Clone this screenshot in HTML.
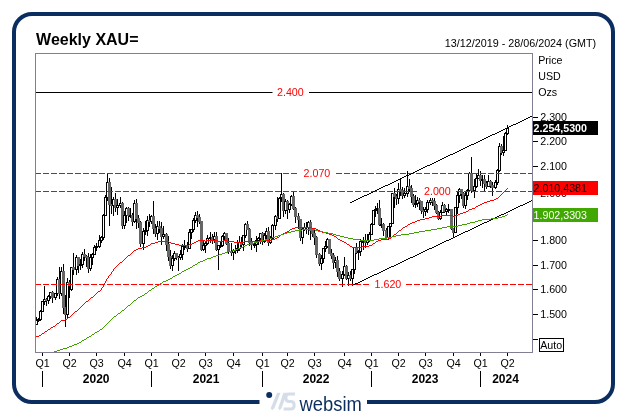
<!DOCTYPE html>
<html><head><meta charset="utf-8"><title>Weekly XAU=</title>
<style>html,body{margin:0;padding:0;background:#fff}body{width:627px;height:416px;position:relative;overflow:hidden}</style></head>
<body>
<svg width="627" height="416" viewBox="0 0 627 416" style="position:absolute;left:0;top:0">
<rect x="14" y="14" width="599" height="388" rx="18" ry="18" fill="none" stroke="#0b2d5f" stroke-width="4"/>
<rect x="259.5" y="396" width="107.5" height="12" fill="#fff"/>
<g shape-rendering="crispEdges">
<rect x="35.5" y="53.5" width="497" height="299" fill="#fff" stroke="#808092" stroke-width="1"/>
<line x1="533" x2="538" y1="339.5" y2="339.5" stroke="#000"/>
<line x1="533" x2="538" y1="314.5" y2="314.5" stroke="#000"/>
<line x1="533" x2="538" y1="289.5" y2="289.5" stroke="#000"/>
<line x1="533" x2="538" y1="265.5" y2="265.5" stroke="#000"/>
<line x1="533" x2="538" y1="240.5" y2="240.5" stroke="#000"/>
<line x1="533" x2="538" y1="215.5" y2="215.5" stroke="#000"/>
<line x1="533" x2="538" y1="191.5" y2="191.5" stroke="#000"/>
<line x1="533" x2="538" y1="166.5" y2="166.5" stroke="#000"/>
<line x1="533" x2="538" y1="141.5" y2="141.5" stroke="#000"/>
<line x1="533" x2="538" y1="117.5" y2="117.5" stroke="#000"/>
<line x1="42.5" x2="42.5" y1="353" y2="356" stroke="#000"/>
<line x1="69.5" x2="69.5" y1="353" y2="356" stroke="#000"/>
<line x1="96.5" x2="96.5" y1="353" y2="356" stroke="#000"/>
<line x1="124.5" x2="124.5" y1="353" y2="356" stroke="#000"/>
<line x1="151.5" x2="151.5" y1="353" y2="356" stroke="#000"/>
<line x1="178.5" x2="178.5" y1="353" y2="356" stroke="#000"/>
<line x1="205.5" x2="205.5" y1="353" y2="356" stroke="#000"/>
<line x1="233.5" x2="233.5" y1="353" y2="356" stroke="#000"/>
<line x1="262.5" x2="262.5" y1="353" y2="356" stroke="#000"/>
<line x1="287.5" x2="287.5" y1="353" y2="356" stroke="#000"/>
<line x1="314.5" x2="314.5" y1="353" y2="356" stroke="#000"/>
<line x1="344.5" x2="344.5" y1="353" y2="356" stroke="#000"/>
<line x1="371.5" x2="371.5" y1="353" y2="356" stroke="#000"/>
<line x1="398.5" x2="398.5" y1="353" y2="356" stroke="#000"/>
<line x1="425.5" x2="425.5" y1="353" y2="356" stroke="#000"/>
<line x1="453.5" x2="453.5" y1="353" y2="356" stroke="#000"/>
<line x1="480.5" x2="480.5" y1="353" y2="356" stroke="#000"/>
<line x1="507.5" x2="507.5" y1="353" y2="356" stroke="#000"/>
<line x1="42.5" x2="42.5" y1="371" y2="387" stroke="#000"/>
<line x1="151.5" x2="151.5" y1="371" y2="387" stroke="#000"/>
<line x1="262.5" x2="262.5" y1="371" y2="387" stroke="#000"/>
<line x1="371.5" x2="371.5" y1="371" y2="387" stroke="#000"/>
<line x1="480.5" x2="480.5" y1="371" y2="387" stroke="#000"/>
</g>
<defs><clipPath id="cp"><rect x="36" y="54" width="496" height="298"/></clipPath></defs>
<g clip-path="url(#cp)">
<g shape-rendering="crispEdges">
<rect x="36" y="317" width="1" height="8" fill="#000"/>
<rect x="35.5" y="320.5" width="2" height="4" fill="#fff" stroke="#000"/>
<rect x="38" y="318" width="1" height="4" fill="#000"/>
<rect x="37.5" y="319.5" width="2" height="1" fill="#fff" stroke="#000"/>
<rect x="40" y="310" width="1" height="11" fill="#000"/>
<rect x="39.5" y="311.5" width="2" height="8" fill="#fff" stroke="#000"/>
<rect x="42" y="301" width="1" height="11" fill="#000"/>
<rect x="41.5" y="301.5" width="2" height="10" fill="#fff" stroke="#000"/>
<rect x="44" y="286" width="1" height="19" fill="#000"/>
<rect x="43.5" y="299.5" width="2" height="2" fill="#fff" stroke="#000"/>
<rect x="46" y="298" width="1" height="8" fill="#000"/>
<rect x="45" y="299" width="3" height="2" fill="#666"/>
<rect x="48" y="295" width="1" height="9" fill="#000"/>
<rect x="47.5" y="296.5" width="2" height="4" fill="#fff" stroke="#000"/>
<rect x="50" y="292" width="1" height="7" fill="#000"/>
<rect x="49.5" y="292.5" width="2" height="4" fill="#fff" stroke="#000"/>
<rect x="52" y="291" width="1" height="12" fill="#000"/>
<rect x="51" y="292" width="3" height="6" fill="#666"/>
<rect x="55" y="293" width="1" height="7" fill="#000"/>
<rect x="54.5" y="293.5" width="2" height="4" fill="#fff" stroke="#000"/>
<rect x="57" y="277" width="1" height="19" fill="#000"/>
<rect x="56.5" y="279.5" width="2" height="14" fill="#fff" stroke="#000"/>
<rect x="59" y="267" width="1" height="32" fill="#000"/>
<rect x="58" y="279" width="3" height="15" fill="#666"/>
<rect x="61" y="267" width="1" height="29" fill="#000"/>
<rect x="60.5" y="271.5" width="2" height="22" fill="#fff" stroke="#000"/>
<rect x="63" y="264" width="1" height="50" fill="#000"/>
<rect x="62" y="271" width="3" height="37" fill="#666"/>
<rect x="65" y="295" width="1" height="32" fill="#000"/>
<rect x="64" y="307" width="3" height="8" fill="#666"/>
<rect x="67" y="278" width="1" height="41" fill="#000"/>
<rect x="66.5" y="282.5" width="2" height="32" fill="#fff" stroke="#000"/>
<rect x="69" y="280" width="1" height="18" fill="#000"/>
<rect x="68" y="282" width="3" height="4" fill="#666"/>
<rect x="71" y="267" width="1" height="24" fill="#000"/>
<rect x="70.5" y="267.5" width="2" height="22" fill="#fff" stroke="#000"/>
<rect x="73" y="253" width="1" height="22" fill="#000"/>
<rect x="72" y="267" width="3" height="3" fill="#666"/>
<rect x="76" y="255" width="1" height="20" fill="#000"/>
<rect x="75.5" y="257.5" width="2" height="12" fill="#fff" stroke="#000"/>
<rect x="78" y="257" width="1" height="16" fill="#000"/>
<rect x="77" y="257" width="3" height="9" fill="#666"/>
<rect x="80" y="259" width="1" height="11" fill="#000"/>
<rect x="79.5" y="264.5" width="2" height="1" fill="#fff" stroke="#000"/>
<rect x="82" y="252" width="1" height="16" fill="#000"/>
<rect x="81.5" y="254.5" width="2" height="10" fill="#fff" stroke="#000"/>
<rect x="84" y="249" width="1" height="12" fill="#000"/>
<rect x="83" y="254" width="3" height="3" fill="#666"/>
<rect x="86" y="255" width="1" height="12" fill="#000"/>
<rect x="85" y="256" width="3" height="2" fill="#666"/>
<rect x="88" y="253" width="1" height="20" fill="#000"/>
<rect x="87" y="257" width="3" height="12" fill="#666"/>
<rect x="90" y="254" width="1" height="17" fill="#000"/>
<rect x="89.5" y="257.5" width="2" height="11" fill="#fff" stroke="#000"/>
<rect x="92" y="253" width="1" height="12" fill="#000"/>
<rect x="91.5" y="254.5" width="2" height="3" fill="#fff" stroke="#000"/>
<rect x="94" y="245" width="1" height="10" fill="#000"/>
<rect x="93.5" y="247.5" width="2" height="7" fill="#fff" stroke="#000"/>
<rect x="96" y="243" width="1" height="8" fill="#000"/>
<rect x="95.5" y="246.5" width="2" height="1" fill="#fff" stroke="#000"/>
<rect x="99" y="235" width="1" height="13" fill="#000"/>
<rect x="98.5" y="240.5" width="2" height="6" fill="#fff" stroke="#000"/>
<rect x="101" y="236" width="1" height="7" fill="#000"/>
<rect x="100.5" y="237.5" width="2" height="3" fill="#fff" stroke="#000"/>
<rect x="103" y="214" width="1" height="26" fill="#000"/>
<rect x="102.5" y="215.5" width="2" height="22" fill="#fff" stroke="#000"/>
<rect x="105" y="195" width="1" height="21" fill="#000"/>
<rect x="104.5" y="197.5" width="2" height="18" fill="#fff" stroke="#000"/>
<rect x="107" y="173" width="1" height="28" fill="#000"/>
<rect x="106.5" y="182.5" width="2" height="15" fill="#fff" stroke="#000"/>
<rect x="109" y="178" width="1" height="48" fill="#000"/>
<rect x="108" y="182" width="3" height="23" fill="#666"/>
<rect x="111" y="187" width="1" height="27" fill="#000"/>
<rect x="110" y="204" width="3" height="2" fill="#666"/>
<rect x="113" y="197" width="1" height="19" fill="#000"/>
<rect x="112.5" y="199.5" width="2" height="6" fill="#fff" stroke="#000"/>
<rect x="115" y="193" width="1" height="19" fill="#000"/>
<rect x="114" y="199" width="3" height="9" fill="#666"/>
<rect x="117" y="199" width="1" height="16" fill="#000"/>
<rect x="116.5" y="205.5" width="2" height="2" fill="#fff" stroke="#000"/>
<rect x="120" y="197" width="1" height="11" fill="#000"/>
<rect x="119.5" y="203.5" width="2" height="2" fill="#fff" stroke="#000"/>
<rect x="122" y="202" width="1" height="27" fill="#000"/>
<rect x="121" y="203" width="3" height="23" fill="#666"/>
<rect x="124" y="211" width="1" height="18" fill="#000"/>
<rect x="123.5" y="215.5" width="2" height="10" fill="#fff" stroke="#000"/>
<rect x="126" y="207" width="1" height="16" fill="#000"/>
<rect x="125.5" y="208.5" width="2" height="7" fill="#fff" stroke="#000"/>
<rect x="128" y="207" width="1" height="14" fill="#000"/>
<rect x="127" y="208" width="3" height="8" fill="#666"/>
<rect x="130" y="208" width="1" height="10" fill="#000"/>
<rect x="129.5" y="215.5" width="2" height="1" fill="#fff" stroke="#000"/>
<rect x="132" y="213" width="1" height="13" fill="#000"/>
<rect x="131" y="215" width="3" height="7" fill="#666"/>
<rect x="134" y="200" width="1" height="23" fill="#000"/>
<rect x="133.5" y="203.5" width="2" height="18" fill="#fff" stroke="#000"/>
<rect x="136" y="199" width="1" height="30" fill="#000"/>
<rect x="135" y="203" width="3" height="16" fill="#666"/>
<rect x="138" y="215" width="1" height="13" fill="#000"/>
<rect x="137" y="218" width="3" height="5" fill="#666"/>
<rect x="140" y="221" width="1" height="26" fill="#000"/>
<rect x="139" y="222" width="3" height="22" fill="#666"/>
<rect x="143" y="228" width="1" height="22" fill="#000"/>
<rect x="142.5" y="231.5" width="2" height="12" fill="#fff" stroke="#000"/>
<rect x="145" y="221" width="1" height="14" fill="#000"/>
<rect x="144.5" y="230.5" width="2" height="1" fill="#fff" stroke="#000"/>
<rect x="147" y="216" width="1" height="20" fill="#000"/>
<rect x="146.5" y="220.5" width="2" height="10" fill="#fff" stroke="#000"/>
<rect x="149" y="214" width="1" height="13" fill="#000"/>
<rect x="148" y="220" width="3" height="2" fill="#666"/>
<rect x="151" y="215" width="1" height="9" fill="#000"/>
<rect x="150.5" y="216.5" width="2" height="5" fill="#fff" stroke="#000"/>
<rect x="153" y="201" width="1" height="33" fill="#000"/>
<rect x="152" y="216" width="3" height="13" fill="#666"/>
<rect x="155" y="224" width="1" height="13" fill="#000"/>
<rect x="154" y="228" width="3" height="6" fill="#666"/>
<rect x="157" y="221" width="1" height="19" fill="#000"/>
<rect x="156.5" y="226.5" width="2" height="7" fill="#fff" stroke="#000"/>
<rect x="159" y="221" width="1" height="12" fill="#000"/>
<rect x="158" y="226" width="3" height="3" fill="#666"/>
<rect x="161" y="222" width="1" height="23" fill="#000"/>
<rect x="160" y="228" width="3" height="9" fill="#666"/>
<rect x="163" y="226" width="1" height="13" fill="#000"/>
<rect x="162.5" y="234.5" width="2" height="2" fill="#fff" stroke="#000"/>
<rect x="166" y="233" width="1" height="18" fill="#000"/>
<rect x="165" y="234" width="3" height="11" fill="#666"/>
<rect x="168" y="236" width="1" height="25" fill="#000"/>
<rect x="167" y="244" width="3" height="13" fill="#666"/>
<rect x="170" y="250" width="1" height="19" fill="#000"/>
<rect x="169" y="256" width="3" height="10" fill="#666"/>
<rect x="172" y="255" width="1" height="16" fill="#000"/>
<rect x="171.5" y="258.5" width="2" height="7" fill="#fff" stroke="#000"/>
<rect x="174" y="251" width="1" height="10" fill="#000"/>
<rect x="173.5" y="253.5" width="2" height="5" fill="#fff" stroke="#000"/>
<rect x="176" y="253" width="1" height="7" fill="#000"/>
<rect x="175" y="253" width="3" height="5" fill="#666"/>
<rect x="178" y="256" width="1" height="15" fill="#000"/>
<rect x="177" y="257" width="3" height="1" fill="#666"/>
<rect x="180" y="250" width="1" height="10" fill="#000"/>
<rect x="179.5" y="254.5" width="2" height="3" fill="#fff" stroke="#000"/>
<rect x="182" y="244" width="1" height="16" fill="#000"/>
<rect x="181.5" y="246.5" width="2" height="8" fill="#fff" stroke="#000"/>
<rect x="184" y="240" width="1" height="10" fill="#000"/>
<rect x="183.5" y="246.5" width="2" height="1" fill="#fff" stroke="#000"/>
<rect x="187" y="242" width="1" height="10" fill="#000"/>
<rect x="186" y="246" width="3" height="3" fill="#666"/>
<rect x="189" y="229" width="1" height="20" fill="#000"/>
<rect x="188.5" y="232.5" width="2" height="16" fill="#fff" stroke="#000"/>
<rect x="191" y="229" width="1" height="10" fill="#000"/>
<rect x="190.5" y="229.5" width="2" height="3" fill="#fff" stroke="#000"/>
<rect x="193" y="218" width="1" height="14" fill="#000"/>
<rect x="192.5" y="220.5" width="2" height="9" fill="#fff" stroke="#000"/>
<rect x="195" y="212" width="1" height="11" fill="#000"/>
<rect x="194.5" y="215.5" width="2" height="5" fill="#fff" stroke="#000"/>
<rect x="197" y="211" width="1" height="16" fill="#000"/>
<rect x="196" y="215" width="3" height="3" fill="#666"/>
<rect x="199" y="214" width="1" height="10" fill="#000"/>
<rect x="198" y="217" width="3" height="5" fill="#666"/>
<rect x="201" y="221" width="1" height="30" fill="#000"/>
<rect x="200" y="221" width="3" height="29" fill="#666"/>
<rect x="203" y="241" width="1" height="10" fill="#000"/>
<rect x="202.5" y="245.5" width="2" height="4" fill="#fff" stroke="#000"/>
<rect x="205" y="241" width="1" height="12" fill="#000"/>
<rect x="204.5" y="243.5" width="2" height="2" fill="#fff" stroke="#000"/>
<rect x="207" y="235" width="1" height="10" fill="#000"/>
<rect x="206.5" y="238.5" width="2" height="5" fill="#fff" stroke="#000"/>
<rect x="210" y="232" width="1" height="11" fill="#000"/>
<rect x="209.5" y="237.5" width="2" height="1" fill="#fff" stroke="#000"/>
<rect x="212" y="234" width="1" height="10" fill="#000"/>
<rect x="211" y="237" width="3" height="3" fill="#666"/>
<rect x="214" y="232" width="1" height="11" fill="#000"/>
<rect x="213.5" y="236.5" width="2" height="3" fill="#fff" stroke="#000"/>
<rect x="216" y="232" width="1" height="19" fill="#000"/>
<rect x="215" y="236" width="3" height="14" fill="#666"/>
<rect x="218" y="245" width="1" height="25" fill="#000"/>
<rect x="217.5" y="245.5" width="2" height="4" fill="#fff" stroke="#000"/>
<rect x="220" y="241" width="1" height="7" fill="#000"/>
<rect x="219.5" y="245.5" width="2" height="1" fill="#fff" stroke="#000"/>
<rect x="222" y="235" width="1" height="12" fill="#000"/>
<rect x="221.5" y="236.5" width="2" height="9" fill="#fff" stroke="#000"/>
<rect x="224" y="232" width="1" height="9" fill="#000"/>
<rect x="223.5" y="233.5" width="2" height="3" fill="#fff" stroke="#000"/>
<rect x="226" y="233" width="1" height="12" fill="#000"/>
<rect x="225" y="233" width="3" height="11" fill="#666"/>
<rect x="228" y="238" width="1" height="16" fill="#000"/>
<rect x="227" y="243" width="3" height="9" fill="#666"/>
<rect x="231" y="243" width="1" height="13" fill="#000"/>
<rect x="230" y="251" width="3" height="2" fill="#666"/>
<rect x="233" y="249" width="1" height="11" fill="#000"/>
<rect x="232.5" y="250.5" width="2" height="2" fill="#fff" stroke="#000"/>
<rect x="235" y="245" width="1" height="9" fill="#000"/>
<rect x="234" y="250" width="3" height="1" fill="#666"/>
<rect x="237" y="240" width="1" height="13" fill="#000"/>
<rect x="236.5" y="248.5" width="2" height="2" fill="#fff" stroke="#000"/>
<rect x="239" y="236" width="1" height="15" fill="#000"/>
<rect x="238.5" y="242.5" width="2" height="6" fill="#fff" stroke="#000"/>
<rect x="241" y="237" width="1" height="11" fill="#000"/>
<rect x="240" y="242" width="3" height="3" fill="#666"/>
<rect x="243" y="235" width="1" height="16" fill="#000"/>
<rect x="242.5" y="235.5" width="2" height="9" fill="#fff" stroke="#000"/>
<rect x="245" y="223" width="1" height="15" fill="#000"/>
<rect x="244.5" y="224.5" width="2" height="11" fill="#fff" stroke="#000"/>
<rect x="247" y="221" width="1" height="9" fill="#000"/>
<rect x="246" y="224" width="3" height="6" fill="#666"/>
<rect x="249" y="228" width="1" height="18" fill="#000"/>
<rect x="248" y="229" width="3" height="14" fill="#666"/>
<rect x="251" y="238" width="1" height="12" fill="#000"/>
<rect x="250" y="242" width="3" height="3" fill="#666"/>
<rect x="254" y="242" width="1" height="6" fill="#000"/>
<rect x="253.5" y="244.5" width="2" height="1" fill="#fff" stroke="#000"/>
<rect x="256" y="236" width="1" height="16" fill="#000"/>
<rect x="255.5" y="240.5" width="2" height="4" fill="#fff" stroke="#000"/>
<rect x="258" y="237" width="1" height="8" fill="#000"/>
<rect x="257.5" y="238.5" width="2" height="2" fill="#fff" stroke="#000"/>
<rect x="260" y="233" width="1" height="11" fill="#000"/>
<rect x="259.5" y="233.5" width="2" height="5" fill="#fff" stroke="#000"/>
<rect x="262" y="232" width="1" height="13" fill="#000"/>
<rect x="261" y="233" width="3" height="9" fill="#666"/>
<rect x="264" y="233" width="1" height="10" fill="#000"/>
<rect x="263.5" y="235.5" width="2" height="6" fill="#fff" stroke="#000"/>
<rect x="266" y="228" width="1" height="12" fill="#000"/>
<rect x="265.5" y="231.5" width="2" height="4" fill="#fff" stroke="#000"/>
<rect x="268" y="227" width="1" height="19" fill="#000"/>
<rect x="267" y="231" width="3" height="12" fill="#666"/>
<rect x="270" y="236" width="1" height="8" fill="#000"/>
<rect x="269.5" y="238.5" width="2" height="4" fill="#fff" stroke="#000"/>
<rect x="272" y="224" width="1" height="15" fill="#000"/>
<rect x="271.5" y="225.5" width="2" height="13" fill="#fff" stroke="#000"/>
<rect x="275" y="215" width="1" height="15" fill="#000"/>
<rect x="274.5" y="216.5" width="2" height="9" fill="#fff" stroke="#000"/>
<rect x="277" y="197" width="1" height="25" fill="#000"/>
<rect x="276" y="216" width="3" height="3" fill="#666"/>
<rect x="279" y="197" width="1" height="22" fill="#000"/>
<rect x="278.5" y="198.5" width="2" height="20" fill="#fff" stroke="#000"/>
<rect x="281" y="173" width="1" height="29" fill="#000"/>
<rect x="280.5" y="194.5" width="2" height="3" fill="#fff" stroke="#000"/>
<rect x="283" y="193" width="1" height="24" fill="#000"/>
<rect x="282" y="194" width="3" height="17" fill="#666"/>
<rect x="285" y="199" width="1" height="15" fill="#000"/>
<rect x="284.5" y="201.5" width="2" height="9" fill="#fff" stroke="#000"/>
<rect x="287" y="200" width="1" height="19" fill="#000"/>
<rect x="286" y="201" width="3" height="9" fill="#666"/>
<rect x="289" y="203" width="1" height="10" fill="#000"/>
<rect x="288.5" y="204.5" width="2" height="5" fill="#fff" stroke="#000"/>
<rect x="291" y="195" width="1" height="11" fill="#000"/>
<rect x="290.5" y="196.5" width="2" height="8" fill="#fff" stroke="#000"/>
<rect x="293" y="191" width="1" height="19" fill="#000"/>
<rect x="292" y="196" width="3" height="13" fill="#666"/>
<rect x="295" y="207" width="1" height="16" fill="#000"/>
<rect x="294" y="208" width="3" height="9" fill="#666"/>
<rect x="298" y="213" width="1" height="16" fill="#000"/>
<rect x="297" y="216" width="3" height="4" fill="#666"/>
<rect x="300" y="219" width="1" height="22" fill="#000"/>
<rect x="299" y="219" width="3" height="19" fill="#666"/>
<rect x="302" y="228" width="1" height="16" fill="#000"/>
<rect x="301.5" y="229.5" width="2" height="8" fill="#fff" stroke="#000"/>
<rect x="304" y="223" width="1" height="8" fill="#000"/>
<rect x="303.5" y="227.5" width="2" height="2" fill="#fff" stroke="#000"/>
<rect x="306" y="222" width="1" height="12" fill="#000"/>
<rect x="305" y="227" width="3" height="1" fill="#666"/>
<rect x="308" y="221" width="1" height="14" fill="#000"/>
<rect x="307.5" y="222.5" width="2" height="5" fill="#fff" stroke="#000"/>
<rect x="310" y="220" width="1" height="20" fill="#000"/>
<rect x="309" y="222" width="3" height="9" fill="#666"/>
<rect x="312" y="228" width="1" height="9" fill="#000"/>
<rect x="311" y="230" width="3" height="4" fill="#666"/>
<rect x="314" y="230" width="1" height="15" fill="#000"/>
<rect x="313" y="233" width="3" height="5" fill="#666"/>
<rect x="316" y="236" width="1" height="22" fill="#000"/>
<rect x="315" y="237" width="3" height="18" fill="#666"/>
<rect x="319" y="253" width="1" height="13" fill="#000"/>
<rect x="318" y="254" width="3" height="10" fill="#666"/>
<rect x="321" y="255" width="1" height="15" fill="#000"/>
<rect x="320.5" y="258.5" width="2" height="5" fill="#fff" stroke="#000"/>
<rect x="323" y="248" width="1" height="15" fill="#000"/>
<rect x="322.5" y="248.5" width="2" height="10" fill="#fff" stroke="#000"/>
<rect x="325" y="241" width="1" height="11" fill="#000"/>
<rect x="324.5" y="246.5" width="2" height="2" fill="#fff" stroke="#000"/>
<rect x="327" y="238" width="1" height="10" fill="#000"/>
<rect x="326.5" y="239.5" width="2" height="7" fill="#fff" stroke="#000"/>
<rect x="329" y="239" width="1" height="15" fill="#000"/>
<rect x="328" y="239" width="3" height="15" fill="#666"/>
<rect x="331" y="249" width="1" height="10" fill="#000"/>
<rect x="330" y="253" width="3" height="3" fill="#666"/>
<rect x="333" y="253" width="1" height="16" fill="#000"/>
<rect x="332" y="255" width="3" height="8" fill="#666"/>
<rect x="335" y="257" width="1" height="11" fill="#000"/>
<rect x="334.5" y="260.5" width="2" height="2" fill="#fff" stroke="#000"/>
<rect x="337" y="256" width="1" height="21" fill="#000"/>
<rect x="336" y="260" width="3" height="12" fill="#666"/>
<rect x="339" y="268" width="1" height="13" fill="#000"/>
<rect x="338" y="271" width="3" height="8" fill="#666"/>
<rect x="342" y="271" width="1" height="16" fill="#000"/>
<rect x="341.5" y="274.5" width="2" height="4" fill="#fff" stroke="#000"/>
<rect x="344" y="257" width="1" height="19" fill="#000"/>
<rect x="343.5" y="266.5" width="2" height="8" fill="#fff" stroke="#000"/>
<rect x="346" y="265" width="1" height="15" fill="#000"/>
<rect x="345" y="266" width="3" height="13" fill="#666"/>
<rect x="348" y="272" width="1" height="14" fill="#000"/>
<rect x="347.5" y="275.5" width="2" height="3" fill="#fff" stroke="#000"/>
<rect x="350" y="271" width="1" height="10" fill="#000"/>
<rect x="349" y="275" width="3" height="4" fill="#666"/>
<rect x="352" y="269" width="1" height="17" fill="#000"/>
<rect x="351.5" y="269.5" width="2" height="9" fill="#fff" stroke="#000"/>
<rect x="354" y="247" width="1" height="27" fill="#000"/>
<rect x="353.5" y="247.5" width="2" height="22" fill="#fff" stroke="#000"/>
<rect x="356" y="243" width="1" height="11" fill="#000"/>
<rect x="355" y="247" width="3" height="6" fill="#666"/>
<rect x="358" y="250" width="1" height="10" fill="#000"/>
<rect x="357.5" y="251.5" width="2" height="1" fill="#fff" stroke="#000"/>
<rect x="360" y="239" width="1" height="17" fill="#000"/>
<rect x="359.5" y="241.5" width="2" height="10" fill="#fff" stroke="#000"/>
<rect x="363" y="237" width="1" height="13" fill="#000"/>
<rect x="362.5" y="241.5" width="2" height="1" fill="#fff" stroke="#000"/>
<rect x="365" y="234" width="1" height="14" fill="#000"/>
<rect x="364" y="241" width="3" height="2" fill="#666"/>
<rect x="367" y="234" width="1" height="11" fill="#000"/>
<rect x="366.5" y="240.5" width="2" height="2" fill="#fff" stroke="#000"/>
<rect x="369" y="232" width="1" height="10" fill="#000"/>
<rect x="368.5" y="234.5" width="2" height="6" fill="#fff" stroke="#000"/>
<rect x="371" y="223" width="1" height="12" fill="#000"/>
<rect x="370.5" y="224.5" width="2" height="10" fill="#fff" stroke="#000"/>
<rect x="373" y="210" width="1" height="15" fill="#000"/>
<rect x="372.5" y="210.5" width="2" height="14" fill="#fff" stroke="#000"/>
<rect x="375" y="206" width="1" height="11" fill="#000"/>
<rect x="374.5" y="209.5" width="2" height="1" fill="#fff" stroke="#000"/>
<rect x="377" y="203" width="1" height="11" fill="#000"/>
<rect x="376.5" y="208.5" width="2" height="1" fill="#fff" stroke="#000"/>
<rect x="379" y="200" width="1" height="26" fill="#000"/>
<rect x="378" y="208" width="3" height="17" fill="#666"/>
<rect x="381" y="218" width="1" height="10" fill="#000"/>
<rect x="380.5" y="224.5" width="2" height="1" fill="#fff" stroke="#000"/>
<rect x="383" y="223" width="1" height="13" fill="#000"/>
<rect x="382" y="224" width="3" height="7" fill="#666"/>
<rect x="386" y="228" width="1" height="11" fill="#000"/>
<rect x="385" y="230" width="3" height="8" fill="#666"/>
<rect x="388" y="226" width="1" height="14" fill="#000"/>
<rect x="387.5" y="226.5" width="2" height="11" fill="#fff" stroke="#000"/>
<rect x="390" y="223" width="1" height="16" fill="#000"/>
<rect x="389.5" y="223.5" width="2" height="3" fill="#fff" stroke="#000"/>
<rect x="392" y="193" width="1" height="31" fill="#000"/>
<rect x="391.5" y="193.5" width="2" height="30" fill="#fff" stroke="#000"/>
<rect x="394" y="188" width="1" height="20" fill="#000"/>
<rect x="393" y="193" width="3" height="4" fill="#666"/>
<rect x="396" y="194" width="1" height="11" fill="#000"/>
<rect x="395" y="196" width="3" height="3" fill="#666"/>
<rect x="398" y="183" width="1" height="21" fill="#000"/>
<rect x="397.5" y="189.5" width="2" height="9" fill="#fff" stroke="#000"/>
<rect x="400" y="179" width="1" height="17" fill="#000"/>
<rect x="399" y="189" width="3" height="2" fill="#666"/>
<rect x="402" y="187" width="1" height="12" fill="#000"/>
<rect x="401" y="190" width="3" height="6" fill="#666"/>
<rect x="404" y="188" width="1" height="10" fill="#000"/>
<rect x="403.5" y="193.5" width="2" height="2" fill="#fff" stroke="#000"/>
<rect x="407" y="171" width="1" height="26" fill="#000"/>
<rect x="406.5" y="186.5" width="2" height="7" fill="#fff" stroke="#000"/>
<rect x="409" y="179" width="1" height="13" fill="#000"/>
<rect x="408" y="186" width="3" height="3" fill="#666"/>
<rect x="411" y="185" width="1" height="18" fill="#000"/>
<rect x="410" y="188" width="3" height="9" fill="#666"/>
<rect x="413" y="194" width="1" height="13" fill="#000"/>
<rect x="412" y="196" width="3" height="9" fill="#666"/>
<rect x="415" y="195" width="1" height="13" fill="#000"/>
<rect x="414.5" y="203.5" width="2" height="1" fill="#fff" stroke="#000"/>
<rect x="417" y="197" width="1" height="10" fill="#000"/>
<rect x="416.5" y="200.5" width="2" height="3" fill="#fff" stroke="#000"/>
<rect x="419" y="198" width="1" height="12" fill="#000"/>
<rect x="418" y="200" width="3" height="2" fill="#666"/>
<rect x="421" y="201" width="1" height="13" fill="#000"/>
<rect x="420" y="201" width="3" height="10" fill="#666"/>
<rect x="423" y="207" width="1" height="11" fill="#000"/>
<rect x="422" y="210" width="3" height="2" fill="#666"/>
<rect x="425" y="207" width="1" height="9" fill="#000"/>
<rect x="424.5" y="209.5" width="2" height="2" fill="#fff" stroke="#000"/>
<rect x="427" y="200" width="1" height="13" fill="#000"/>
<rect x="426.5" y="202.5" width="2" height="7" fill="#fff" stroke="#000"/>
<rect x="430" y="194" width="1" height="11" fill="#000"/>
<rect x="429.5" y="200.5" width="2" height="2" fill="#fff" stroke="#000"/>
<rect x="432" y="195" width="1" height="11" fill="#000"/>
<rect x="431" y="200" width="3" height="2" fill="#666"/>
<rect x="434" y="198" width="1" height="12" fill="#000"/>
<rect x="433" y="201" width="3" height="5" fill="#666"/>
<rect x="436" y="204" width="1" height="10" fill="#000"/>
<rect x="435" y="205" width="3" height="8" fill="#666"/>
<rect x="438" y="211" width="1" height="9" fill="#000"/>
<rect x="437" y="212" width="3" height="7" fill="#666"/>
<rect x="440" y="210" width="1" height="10" fill="#000"/>
<rect x="439.5" y="212.5" width="2" height="6" fill="#fff" stroke="#000"/>
<rect x="442" y="202" width="1" height="11" fill="#000"/>
<rect x="441.5" y="205.5" width="2" height="7" fill="#fff" stroke="#000"/>
<rect x="444" y="204" width="1" height="9" fill="#000"/>
<rect x="443" y="205" width="3" height="7" fill="#666"/>
<rect x="446" y="208" width="1" height="8" fill="#000"/>
<rect x="445.5" y="209.5" width="2" height="2" fill="#fff" stroke="#000"/>
<rect x="448" y="204" width="1" height="9" fill="#000"/>
<rect x="447.5" y="209.5" width="2" height="1" fill="#fff" stroke="#000"/>
<rect x="451" y="209" width="1" height="21" fill="#000"/>
<rect x="450" y="209" width="3" height="20" fill="#666"/>
<rect x="453" y="228" width="1" height="10" fill="#000"/>
<rect x="452" y="228" width="3" height="5" fill="#666"/>
<rect x="455" y="207" width="1" height="26" fill="#000"/>
<rect x="454.5" y="207.5" width="2" height="25" fill="#fff" stroke="#000"/>
<rect x="457" y="191" width="1" height="23" fill="#000"/>
<rect x="456.5" y="195.5" width="2" height="12" fill="#fff" stroke="#000"/>
<rect x="459" y="188" width="1" height="15" fill="#000"/>
<rect x="458.5" y="189.5" width="2" height="6" fill="#fff" stroke="#000"/>
<rect x="461" y="189" width="1" height="10" fill="#000"/>
<rect x="460" y="189" width="3" height="5" fill="#666"/>
<rect x="463" y="192" width="1" height="16" fill="#000"/>
<rect x="462" y="193" width="3" height="13" fill="#666"/>
<rect x="465" y="192" width="1" height="17" fill="#000"/>
<rect x="464.5" y="195.5" width="2" height="10" fill="#fff" stroke="#000"/>
<rect x="467" y="189" width="1" height="11" fill="#000"/>
<rect x="466.5" y="190.5" width="2" height="5" fill="#fff" stroke="#000"/>
<rect x="469" y="172" width="1" height="20" fill="#000"/>
<rect x="468.5" y="173.5" width="2" height="17" fill="#fff" stroke="#000"/>
<rect x="471" y="157" width="1" height="36" fill="#000"/>
<rect x="470" y="173" width="3" height="18" fill="#666"/>
<rect x="474" y="179" width="1" height="19" fill="#000"/>
<rect x="473.5" y="186.5" width="2" height="4" fill="#fff" stroke="#000"/>
<rect x="476" y="173" width="1" height="15" fill="#000"/>
<rect x="475.5" y="178.5" width="2" height="8" fill="#fff" stroke="#000"/>
<rect x="478" y="169" width="1" height="10" fill="#000"/>
<rect x="477.5" y="175.5" width="2" height="3" fill="#fff" stroke="#000"/>
<rect x="480" y="171" width="1" height="15" fill="#000"/>
<rect x="479" y="175" width="3" height="6" fill="#666"/>
<rect x="482" y="175" width="1" height="13" fill="#000"/>
<rect x="481.5" y="179.5" width="2" height="1" fill="#fff" stroke="#000"/>
<rect x="484" y="175" width="1" height="16" fill="#000"/>
<rect x="483" y="179" width="3" height="5" fill="#666"/>
<rect x="486" y="181" width="1" height="8" fill="#000"/>
<rect x="485" y="183" width="3" height="4" fill="#666"/>
<rect x="488" y="175" width="1" height="12" fill="#000"/>
<rect x="487.5" y="181.5" width="2" height="5" fill="#fff" stroke="#000"/>
<rect x="490" y="180" width="1" height="8" fill="#000"/>
<rect x="489" y="181" width="3" height="5" fill="#666"/>
<rect x="492" y="182" width="1" height="14" fill="#000"/>
<rect x="491" y="185" width="3" height="3" fill="#666"/>
<rect x="495" y="180" width="1" height="9" fill="#000"/>
<rect x="494.5" y="182.5" width="2" height="5" fill="#fff" stroke="#000"/>
<rect x="497" y="169" width="1" height="16" fill="#000"/>
<rect x="496.5" y="170.5" width="2" height="12" fill="#fff" stroke="#000"/>
<rect x="499" y="143" width="1" height="29" fill="#000"/>
<rect x="498.5" y="146.5" width="2" height="24" fill="#fff" stroke="#000"/>
<rect x="501" y="144" width="1" height="11" fill="#000"/>
<rect x="500" y="146" width="3" height="7" fill="#666"/>
<rect x="503" y="136" width="1" height="20" fill="#000"/>
<rect x="502.5" y="150.5" width="2" height="2" fill="#fff" stroke="#000"/>
<rect x="505" y="132" width="1" height="19" fill="#000"/>
<rect x="504.5" y="133.5" width="2" height="17" fill="#fff" stroke="#000"/>
<rect x="507" y="125" width="1" height="10" fill="#000"/>
<rect x="506.5" y="128.5" width="2" height="5" fill="#fff" stroke="#000"/>
</g>
<g shape-rendering="crispEdges">
<line x1="36" x2="532" y1="92.5" y2="92.5" stroke="#000"/>
<line x1="36" x2="299" y1="173.5" y2="173.5" stroke="#f00" stroke-dasharray="6 2" stroke-dashoffset="1"/>
<line x1="336" x2="532" y1="173.5" y2="173.5" stroke="#f00" stroke-dasharray="6 2"/>
<line x1="36" x2="419" y1="191.5" y2="191.5" stroke="#f00" stroke-dasharray="6 2" stroke-dashoffset="1"/>
<line x1="456" x2="532" y1="191.5" y2="191.5" stroke="#f00" stroke-dasharray="6 2"/>
<line x1="36" x2="370" y1="284.5" y2="284.5" stroke="#f00" stroke-dasharray="6 2" stroke-dashoffset="1"/>
<line x1="406" x2="532" y1="284.5" y2="284.5" stroke="#f00" stroke-dasharray="6 2"/>
</g>
<path shape-rendering="crispEdges" fill="#000" d="M532,115h1v1h-1zM530,116h2v1h-2zM528,117h2v1h-2zM526,118h2v1h-2zM524,119h2v1h-2zM522,120h2v1h-2zM520,121h2v1h-2zM518,122h2v1h-2zM516,123h2v1h-2zM513,124h3v1h-3zM511,125h2v1h-2zM509,126h2v1h-2zM507,127h2v1h-2zM505,128h2v1h-2zM503,129h2v1h-2zM501,130h2v1h-2zM499,131h2v1h-2zM497,132h2v1h-2zM495,133h2v1h-2zM492,134h3v1h-3zM490,135h2v1h-2zM488,136h2v1h-2zM486,137h2v1h-2zM484,138h2v1h-2zM482,139h2v1h-2zM480,140h2v1h-2zM478,141h2v1h-2zM476,142h2v1h-2zM474,143h2v1h-2zM471,144h3v1h-3zM469,145h2v1h-2zM467,146h2v1h-2zM465,147h2v1h-2zM463,148h2v1h-2zM461,149h2v1h-2zM459,150h2v1h-2zM457,151h2v1h-2zM455,152h2v1h-2zM453,153h2v1h-2zM450,154h3v1h-3zM448,155h2v1h-2zM446,156h2v1h-2zM444,157h2v1h-2zM442,158h2v1h-2zM440,159h2v1h-2zM438,160h2v1h-2zM436,161h2v1h-2zM434,162h2v1h-2zM432,163h2v1h-2zM430,164h2v1h-2zM427,165h3v1h-3zM425,166h2v1h-2zM423,167h2v1h-2zM421,168h2v1h-2zM419,169h2v1h-2zM417,170h2v1h-2zM415,171h2v1h-2zM413,172h2v1h-2zM411,173h2v1h-2zM409,174h2v1h-2zM406,175h3v1h-3zM404,176h2v1h-2zM402,177h2v1h-2zM400,178h2v1h-2zM398,179h2v1h-2zM396,180h2v1h-2zM394,181h2v1h-2zM392,182h2v1h-2zM390,183h2v1h-2zM388,184h2v1h-2zM385,185h3v1h-3zM383,186h2v1h-2zM381,187h2v1h-2zM379,188h2v1h-2zM377,189h2v1h-2zM375,190h2v1h-2zM373,191h2v1h-2zM371,192h2v1h-2zM369,193h2v1h-2zM367,194h2v1h-2zM364,195h3v1h-3zM362,196h2v1h-2zM360,197h2v1h-2zM358,198h2v1h-2zM356,199h2v1h-2zM354,200h2v1h-2zM352,201h2v1h-2zM350,202h2v1h-2z"/>
<path shape-rendering="crispEdges" fill="#000" d="M531,200h2v1h-2zM529,201h2v1h-2zM527,202h2v1h-2zM525,203h2v1h-2zM523,204h2v1h-2zM520,205h3v1h-3zM518,206h2v1h-2zM516,207h2v1h-2zM514,208h2v1h-2zM512,209h2v1h-2zM510,210h2v1h-2zM508,211h2v1h-2zM506,212h2v1h-2zM504,213h2v1h-2zM501,214h3v1h-3zM499,215h2v1h-2zM497,216h2v1h-2zM495,217h2v1h-2zM493,218h2v1h-2zM491,219h2v1h-2zM489,220h2v1h-2zM487,221h2v1h-2zM484,222h3v1h-3zM482,223h2v1h-2zM480,224h2v1h-2zM478,225h2v1h-2zM476,226h2v1h-2zM474,227h2v1h-2zM472,228h2v1h-2zM470,229h2v1h-2zM468,230h2v1h-2zM465,231h3v1h-3zM463,232h2v1h-2zM461,233h2v1h-2zM459,234h2v1h-2zM457,235h2v1h-2zM455,236h2v1h-2zM453,237h2v1h-2zM451,238h2v1h-2zM449,239h2v1h-2zM446,240h3v1h-3zM444,241h2v1h-2zM442,242h2v1h-2zM440,243h2v1h-2zM438,244h2v1h-2zM436,245h2v1h-2zM434,246h2v1h-2zM432,247h2v1h-2zM429,248h3v1h-3zM427,249h2v1h-2zM425,250h2v1h-2zM423,251h2v1h-2zM421,252h2v1h-2zM419,253h2v1h-2zM417,254h2v1h-2zM415,255h2v1h-2zM413,256h2v1h-2zM410,257h3v1h-3zM408,258h2v1h-2zM406,259h2v1h-2zM404,260h2v1h-2zM402,261h2v1h-2zM400,262h2v1h-2zM398,263h2v1h-2zM396,264h2v1h-2zM394,265h2v1h-2zM391,266h3v1h-3zM389,267h2v1h-2zM387,268h2v1h-2zM385,269h2v1h-2zM383,270h2v1h-2zM381,271h2v1h-2zM379,272h2v1h-2zM377,273h2v1h-2zM374,274h3v1h-3zM372,275h2v1h-2zM370,276h2v1h-2zM368,277h2v1h-2zM366,278h2v1h-2zM364,279h2v1h-2zM362,280h2v1h-2zM360,281h2v1h-2zM358,282h2v1h-2zM355,283h3v1h-3zM353,284h2v1h-2zM352,285h1v1h-1z"/>
<path shape-rendering="crispEdges" fill="#f00" d="M507,188h1v1h-1zM506,189h1v1h-1zM505,190h1v1h-1zM504,191h1v1h-1zM503,192h1v1h-1zM502,193h1v1h-1zM501,194h1v1h-1zM500,195h1v1h-1zM499,196h1v1h-1zM498,197h1v1h-1zM496,198h2v1h-2zM494,199h2v1h-2zM490,200h4v1h-4zM487,201h3v1h-3zM484,202h3v1h-3zM482,203h2v1h-2zM480,204h2v1h-2zM478,205h2v1h-2zM476,206h2v1h-2zM475,207h1v1h-1zM472,208h3v1h-3zM469,209h3v1h-3zM468,210h1v1h-1zM466,211h2v1h-2zM463,212h3v1h-3zM460,213h3v1h-3zM458,214h2v1h-2zM441,215h12v1h-12zM455,215h3v1h-3zM432,216h9v1h-9zM453,216h2v1h-2zM429,217h3v1h-3zM425,218h4v1h-4zM420,219h5v1h-5zM417,220h3v1h-3zM415,221h2v1h-2zM412,222h3v1h-3zM410,223h2v1h-2zM408,224h2v1h-2zM407,225h1v1h-1zM405,226h2v1h-2zM295,227h17v1h-17zM403,227h2v1h-2zM292,228h3v1h-3zM312,228h4v1h-4zM402,228h1v1h-1zM290,229h2v1h-2zM316,229h2v1h-2zM401,229h1v1h-1zM289,230h1v1h-1zM318,230h2v1h-2zM399,230h2v1h-2zM287,231h2v1h-2zM320,231h2v1h-2zM398,231h1v1h-1zM285,232h2v1h-2zM322,232h4v1h-4zM397,232h1v1h-1zM283,233h2v1h-2zM326,233h3v1h-3zM396,233h1v1h-1zM281,234h2v1h-2zM329,234h3v1h-3zM394,234h2v1h-2zM280,235h1v1h-1zM332,235h2v1h-2zM393,235h1v1h-1zM279,236h1v1h-1zM334,236h2v1h-2zM392,236h1v1h-1zM277,237h2v1h-2zM336,237h1v1h-1zM391,237h1v1h-1zM275,238h2v1h-2zM337,238h1v1h-1zM388,238h3v1h-3zM272,239h3v1h-3zM338,239h2v1h-2zM381,239h7v1h-7zM198,240h7v1h-7zM206,240h12v1h-12zM223,240h4v1h-4zM260,240h12v1h-12zM340,240h2v1h-2zM378,240h3v1h-3zM158,241h11v1h-11zM196,241h2v1h-2zM205,241h1v1h-1zM218,241h5v1h-5zM227,241h7v1h-7zM244,241h16v1h-16zM342,241h2v1h-2zM376,241h2v1h-2zM155,242h3v1h-3zM169,242h2v1h-2zM194,242h2v1h-2zM234,242h10v1h-10zM344,242h2v1h-2zM375,242h1v1h-1zM151,243h4v1h-4zM171,243h4v1h-4zM192,243h2v1h-2zM346,243h1v1h-1zM373,243h2v1h-2zM150,244h1v1h-1zM175,244h4v1h-4zM189,244h3v1h-3zM347,244h2v1h-2zM372,244h1v1h-1zM148,245h2v1h-2zM179,245h10v1h-10zM349,245h1v1h-1zM369,245h3v1h-3zM146,246h2v1h-2zM350,246h2v1h-2zM362,246h7v1h-7zM142,247h4v1h-4zM352,247h10v1h-10zM138,248h4v1h-4zM136,249h2v1h-2zM134,250h2v1h-2zM133,251h1v1h-1zM132,252h1v1h-1zM131,253h1v1h-1zM130,254h1v1h-1zM128,255h2v1h-2zM127,256h1v1h-1zM126,257h1v1h-1zM125,258h1v1h-1zM124,259h1v1h-1zM123,260h1v1h-1zM122,261h1v1h-1zM120,262h2v1h-2zM119,263h1v1h-1zM118,264h1v1h-1zM117,265h1v1h-1zM116,266h1v1h-1zM115,267h1v1h-1zM114,268h1v1h-1zM113,269h1v1h-1zM113,270h1v1h-1zM112,271h1v1h-1zM111,272h1v1h-1zM111,273h1v1h-1zM110,274h1v1h-1zM109,275h1v1h-1zM108,276h1v1h-1zM108,277h1v1h-1zM107,278h1v1h-1zM106,279h1v1h-1zM106,280h1v1h-1zM105,281h1v1h-1zM105,282h1v1h-1zM104,283h1v1h-1zM104,284h1v1h-1zM103,285h1v1h-1zM103,286h1v1h-1zM102,287h1v1h-1zM101,288h1v1h-1zM101,289h1v1h-1zM100,290h1v1h-1zM98,291h2v1h-2zM97,292h1v1h-1zM96,293h1v1h-1zM95,294h1v1h-1zM94,295h1v1h-1zM93,296h1v1h-1zM91,297h2v1h-2zM90,298h1v1h-1zM89,299h1v1h-1zM88,300h1v1h-1zM86,301h2v1h-2zM85,302h1v1h-1zM84,303h1v1h-1zM83,304h1v1h-1zM82,305h1v1h-1zM81,306h1v1h-1zM80,307h1v1h-1zM79,308h1v1h-1zM78,309h1v1h-1zM77,310h1v1h-1zM75,311h2v1h-2zM74,312h1v1h-1zM73,313h1v1h-1zM72,314h1v1h-1zM71,315h1v1h-1zM70,316h1v1h-1zM68,317h2v1h-2zM67,318h1v1h-1zM65,319h2v1h-2zM61,320h4v1h-4zM60,321h1v1h-1zM59,322h1v1h-1zM57,323h2v1h-2zM56,324h1v1h-1zM55,325h1v1h-1zM53,326h2v1h-2zM51,327h2v1h-2zM50,328h1v1h-1zM48,329h2v1h-2zM47,330h1v1h-1zM45,331h2v1h-2zM44,332h1v1h-1zM42,333h2v1h-2zM41,334h1v1h-1zM39,335h2v1h-2zM36,336h3v1h-3z"/>
<path shape-rendering="crispEdges" fill="#3fa000" d="M507,214h1v1h-1zM505,215h2v1h-2zM502,216h3v1h-3zM498,217h4v1h-4zM491,218h7v1h-7zM482,219h9v1h-9zM478,220h4v1h-4zM475,221h3v1h-3zM470,222h5v1h-5zM467,223h3v1h-3zM462,224h5v1h-5zM458,225h4v1h-4zM447,226h11v1h-11zM442,227h5v1h-5zM437,228h5v1h-5zM302,229h13v1h-13zM431,229h6v1h-6zM295,230h7v1h-7zM315,230h3v1h-3zM425,230h6v1h-6zM291,231h4v1h-4zM318,231h5v1h-5zM419,231h6v1h-6zM287,232h4v1h-4zM323,232h5v1h-5zM414,232h5v1h-5zM284,233h3v1h-3zM328,233h5v1h-5zM409,233h5v1h-5zM281,234h3v1h-3zM333,234h3v1h-3zM401,234h8v1h-8zM278,235h3v1h-3zM336,235h4v1h-4zM396,235h5v1h-5zM275,236h3v1h-3zM340,236h4v1h-4zM392,236h4v1h-4zM272,237h3v1h-3zM344,237h4v1h-4zM387,237h5v1h-5zM269,238h3v1h-3zM348,238h5v1h-5zM379,238h8v1h-8zM265,239h4v1h-4zM353,239h7v1h-7zM374,239h5v1h-5zM261,240h4v1h-4zM360,240h14v1h-14zM258,241h3v1h-3zM254,242h4v1h-4zM250,243h4v1h-4zM247,244h3v1h-3zM245,245h2v1h-2zM243,246h2v1h-2zM240,247h3v1h-3zM238,248h2v1h-2zM235,249h3v1h-3zM232,250h3v1h-3zM228,251h4v1h-4zM225,252h3v1h-3zM222,253h3v1h-3zM219,254h3v1h-3zM216,255h3v1h-3zM213,256h3v1h-3zM211,257h2v1h-2zM207,258h4v1h-4zM205,259h2v1h-2zM203,260h2v1h-2zM200,261h3v1h-3zM198,262h2v1h-2zM197,263h1v1h-1zM195,264h2v1h-2zM193,265h2v1h-2zM192,266h1v1h-1zM190,267h2v1h-2zM188,268h2v1h-2zM186,269h2v1h-2zM184,270h2v1h-2zM182,271h2v1h-2zM181,272h1v1h-1zM179,273h2v1h-2zM177,274h2v1h-2zM175,275h2v1h-2zM173,276h2v1h-2zM172,277h1v1h-1zM170,278h2v1h-2zM168,279h2v1h-2zM166,280h2v1h-2zM163,281h3v1h-3zM162,282h1v1h-1zM160,283h2v1h-2zM159,284h1v1h-1zM157,285h2v1h-2zM155,286h2v1h-2zM154,287h1v1h-1zM152,288h2v1h-2zM151,289h1v1h-1zM149,290h2v1h-2zM148,291h1v1h-1zM147,292h1v1h-1zM145,293h2v1h-2zM144,294h1v1h-1zM142,295h2v1h-2zM140,296h2v1h-2zM138,297h2v1h-2zM137,298h1v1h-1zM136,299h1v1h-1zM134,300h2v1h-2zM133,301h1v1h-1zM132,302h1v1h-1zM131,303h1v1h-1zM130,304h1v1h-1zM128,305h2v1h-2zM127,306h1v1h-1zM126,307h1v1h-1zM125,308h1v1h-1zM124,309h1v1h-1zM122,310h2v1h-2zM121,311h1v1h-1zM120,312h1v1h-1zM118,313h2v1h-2zM117,314h1v1h-1zM116,315h1v1h-1zM114,316h2v1h-2zM113,317h1v1h-1zM112,318h1v1h-1zM111,319h1v1h-1zM110,320h1v1h-1zM109,321h1v1h-1zM108,322h1v1h-1zM107,323h1v1h-1zM106,324h1v1h-1zM105,325h1v1h-1zM104,326h1v1h-1zM103,327h1v1h-1zM102,328h1v1h-1zM100,329h2v1h-2zM99,330h1v1h-1zM97,331h2v1h-2zM95,332h2v1h-2zM94,333h1v1h-1zM92,334h2v1h-2zM91,335h1v1h-1zM89,336h2v1h-2zM87,337h2v1h-2zM86,338h1v1h-1zM84,339h2v1h-2zM82,340h2v1h-2zM81,341h1v1h-1zM79,342h2v1h-2zM77,343h2v1h-2zM74,344h3v1h-3zM72,345h2v1h-2zM69,346h3v1h-3zM67,347h2v1h-2zM63,348h4v1h-4zM60,349h3v1h-3zM57,350h3v1h-3zM54,351h3v1h-3zM50,352h4v1h-4zM47,353h3v1h-3zM43,354h4v1h-4zM39,355h4v1h-4zM36,356h3v1h-3z"/>
</g>
<rect x="272.5" y="86" width="36.5" height="13" fill="#fff"/>
<rect x="299" y="167" width="37" height="13" fill="#fff"/>
<rect x="419" y="185" width="37" height="13" fill="#fff"/>
<rect x="370" y="278" width="36" height="13" fill="#fff"/>
<text x="277" y="96.3" font-family="Liberation Sans, sans-serif" font-size="10.67" fill="#f00">2.400</text>
<text x="303.6" y="177.3" font-family="Liberation Sans, sans-serif" font-size="10.67" fill="#f00">2.070</text>
<text x="424" y="195.3" font-family="Liberation Sans, sans-serif" font-size="10.67" fill="#f00">2.000</text>
<text x="374.6" y="288.3" font-family="Liberation Sans, sans-serif" font-size="10.67" fill="#f00">1.620</text>
<text x="540.3" y="318.1" font-family="Liberation Sans, sans-serif" font-size="10.67" fill="#000">1.500</text>
<text x="540.3" y="293.1" font-family="Liberation Sans, sans-serif" font-size="10.67" fill="#000">1.600</text>
<text x="540.3" y="269.1" font-family="Liberation Sans, sans-serif" font-size="10.67" fill="#000">1.700</text>
<text x="540.3" y="244.1" font-family="Liberation Sans, sans-serif" font-size="10.67" fill="#000">1.800</text>
<text x="540.3" y="196.5" font-family="Liberation Sans, sans-serif" font-size="10.67" fill="#000">2.000</text>
<text x="540.3" y="170.1" font-family="Liberation Sans, sans-serif" font-size="10.67" fill="#000">2.100</text>
<text x="540.3" y="145.1" font-family="Liberation Sans, sans-serif" font-size="10.67" fill="#000">2.200</text>
<text x="540.3" y="121.1" font-family="Liberation Sans, sans-serif" font-size="10.67" fill="#000">2.300</text>
<g shape-rendering="crispEdges">
<rect x="533" y="121" width="65" height="14" fill="#000"/>
<rect x="533" y="181" width="65" height="14" fill="#f00"/>
<rect x="533" y="208" width="65" height="14" fill="#40a800"/>
<rect x="539.5" y="338.5" width="24" height="13" fill="#fff" stroke="#000"/>
</g>
<text x="533.6" y="132" font-family="Liberation Sans, sans-serif" font-size="10.67" font-weight="bold" fill="#fff">2.254,5300</text>
<text x="533.6" y="192" font-family="Liberation Sans, sans-serif" font-size="10.67" fill="#000">2.010,4381</text>
<text x="533.6" y="219" font-family="Liberation Sans, sans-serif" font-size="10.67" fill="#fff">1.902,3303</text>
<text x="540.2" y="349" font-family="Liberation Sans, sans-serif" font-size="10.67" fill="#000">Auto</text>
<text x="538.2" y="63.8" font-family="Liberation Sans, sans-serif" font-size="10.67" fill="#000">Price</text>
<text x="538.2" y="79.6" font-family="Liberation Sans, sans-serif" font-size="10.67" fill="#000">USD</text>
<text x="538.2" y="95.6" font-family="Liberation Sans, sans-serif" font-size="10.67" fill="#000">Ozs</text>
<text x="36.1" y="45.4" font-family="Liberation Sans, sans-serif" font-size="16" font-weight="bold" fill="#000">Weekly XAU=</text>
<text x="596.2" y="47.4" text-anchor="end" font-family="Liberation Sans, sans-serif" font-size="10.78" fill="#000">13/12/2019 - 28/06/2024 (GMT)</text>
<text x="42.5" y="366.5" text-anchor="middle" font-family="Liberation Sans, sans-serif" font-size="10.67" fill="#000">Q1</text>
<text x="69.5" y="366.5" text-anchor="middle" font-family="Liberation Sans, sans-serif" font-size="10.67" fill="#000">Q2</text>
<text x="96.5" y="366.5" text-anchor="middle" font-family="Liberation Sans, sans-serif" font-size="10.67" fill="#000">Q3</text>
<text x="124.5" y="366.5" text-anchor="middle" font-family="Liberation Sans, sans-serif" font-size="10.67" fill="#000">Q4</text>
<text x="151.5" y="366.5" text-anchor="middle" font-family="Liberation Sans, sans-serif" font-size="10.67" fill="#000">Q1</text>
<text x="178.5" y="366.5" text-anchor="middle" font-family="Liberation Sans, sans-serif" font-size="10.67" fill="#000">Q2</text>
<text x="205.5" y="366.5" text-anchor="middle" font-family="Liberation Sans, sans-serif" font-size="10.67" fill="#000">Q3</text>
<text x="233.5" y="366.5" text-anchor="middle" font-family="Liberation Sans, sans-serif" font-size="10.67" fill="#000">Q4</text>
<text x="262.5" y="366.5" text-anchor="middle" font-family="Liberation Sans, sans-serif" font-size="10.67" fill="#000">Q1</text>
<text x="287.5" y="366.5" text-anchor="middle" font-family="Liberation Sans, sans-serif" font-size="10.67" fill="#000">Q2</text>
<text x="314.5" y="366.5" text-anchor="middle" font-family="Liberation Sans, sans-serif" font-size="10.67" fill="#000">Q3</text>
<text x="344.5" y="366.5" text-anchor="middle" font-family="Liberation Sans, sans-serif" font-size="10.67" fill="#000">Q4</text>
<text x="371.5" y="366.5" text-anchor="middle" font-family="Liberation Sans, sans-serif" font-size="10.67" fill="#000">Q1</text>
<text x="398.5" y="366.5" text-anchor="middle" font-family="Liberation Sans, sans-serif" font-size="10.67" fill="#000">Q2</text>
<text x="425.5" y="366.5" text-anchor="middle" font-family="Liberation Sans, sans-serif" font-size="10.67" fill="#000">Q3</text>
<text x="453.5" y="366.5" text-anchor="middle" font-family="Liberation Sans, sans-serif" font-size="10.67" fill="#000">Q4</text>
<text x="480.5" y="366.5" text-anchor="middle" font-family="Liberation Sans, sans-serif" font-size="10.67" fill="#000">Q1</text>
<text x="507.5" y="366.5" text-anchor="middle" font-family="Liberation Sans, sans-serif" font-size="10.67" fill="#000">Q2</text>
<text x="96.2" y="382.8" text-anchor="middle" font-family="Liberation Sans, sans-serif" font-size="12" font-weight="bold" fill="#000">2020</text>
<text x="206.1" y="382.8" text-anchor="middle" font-family="Liberation Sans, sans-serif" font-size="12" font-weight="bold" fill="#000">2021</text>
<text x="316.1" y="382.8" text-anchor="middle" font-family="Liberation Sans, sans-serif" font-size="12" font-weight="bold" fill="#000">2022</text>
<text x="425.1" y="382.8" text-anchor="middle" font-family="Liberation Sans, sans-serif" font-size="12" font-weight="bold" fill="#000">2023</text>
<text x="505.5" y="382.8" text-anchor="middle" font-family="Liberation Sans, sans-serif" font-size="12" font-weight="bold" fill="#000">2024</text>
<circle cx="269.2" cy="395" r="3" fill="#0b2d5f"/>
<g fill="#d5dde9">
<polygon points="277.1,392.7 280.5,392.7 274.4,408.2 272.1,410.3 270.7,408.2"/>
<polygon points="283.4,392.7 287.2,392.7 281.5,408.2 279.6,410.3 278.2,408.2"/>
</g>
<path d="M294.9,394.1 H289.1 Q285.9,394.1 285.9,397.3 V398.3 Q285.9,401.5 289.1,401.5 H290.9 Q294.1,401.5 294.1,404.7 V405.8 Q294.1,409 290.9,409 H283.6" fill="none" stroke="#d5dde9" stroke-width="3"/>
<text x="299.5" y="410.5" font-family="Liberation Sans, sans-serif" font-size="20.8" fill="#0b2d5f" textLength="62.3" lengthAdjust="spacingAndGlyphs">websim</text>
</svg>
</body></html>
